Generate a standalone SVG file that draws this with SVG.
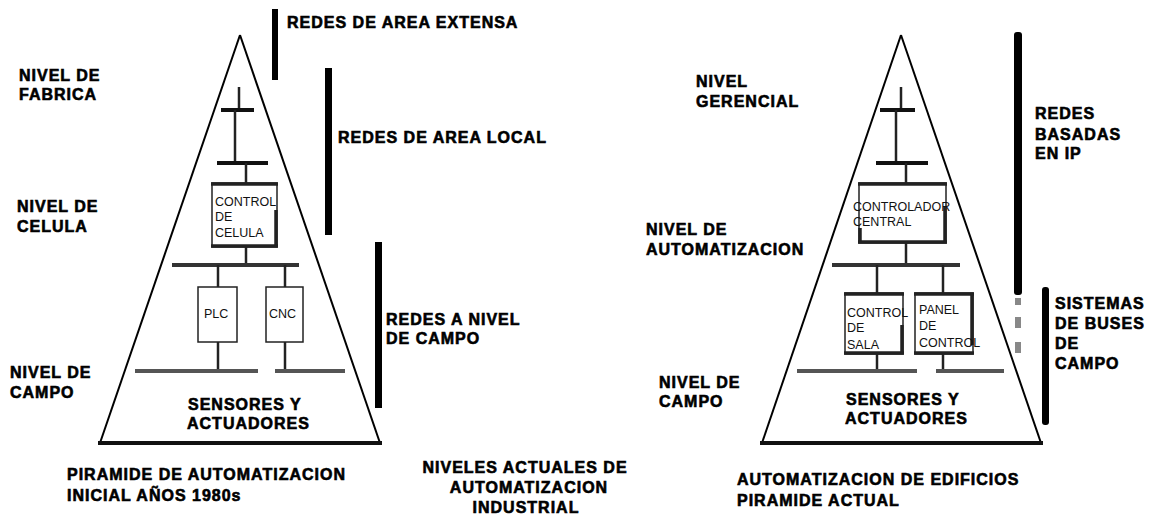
<svg xmlns="http://www.w3.org/2000/svg" width="1153" height="515" viewBox="0 0 1153 515">
<style>
.lbl{font-family:"Liberation Sans",Arial,sans-serif;font-weight:bold;font-size:16px;letter-spacing:1px;fill:#000;stroke:#000;stroke-width:0.6px}
.mid{text-anchor:middle}
.sm{font-family:"Liberation Sans",Arial,sans-serif;font-size:12.5px;fill:#111}
.side{stroke:#000;stroke-width:2;fill:none}
.base{stroke:#111;stroke-width:4;fill:none}
.wire{stroke:#222;stroke-width:2.5;fill:none}
.bus1{stroke:#111;stroke-width:4;fill:none}
.bus2{stroke:#333;stroke-width:4;fill:none}
.bus3{stroke:#555;stroke-width:4;fill:none}
.box{fill:#fff;stroke:#222;stroke-width:1.5}
.thick{stroke:#222;stroke-width:3.5;fill:none}
.bar{fill:#000}
.dash{fill:#888}
</style>
<rect width="1153" height="515" fill="#fff"/>

<g id="pyramid-left">
<line class="side" x1="240" y1="35" x2="100" y2="443"/>
<line class="side" x1="240" y1="35" x2="380" y2="443"/>
<line class="base" x1="98" y1="443" x2="382" y2="443"/>
</g>
<g id="pyramid-right">
<line class="side" x1="901" y1="35" x2="762" y2="443"/>
<line class="side" x1="901" y1="35" x2="1041" y2="443"/>
<line class="base" x1="760" y1="443" x2="1043" y2="443"/>
</g>

<g id="connectors">
<line class="wire" x1="239" y1="87" x2="239" y2="110"/>
<line class="bus1" x1="221" y1="110" x2="254" y2="110"/>
<line class="wire" x1="235" y1="110" x2="235" y2="163"/>
<line class="bus1" x1="217" y1="163" x2="268" y2="163"/>
<line class="wire" x1="246" y1="163" x2="246" y2="183"/>
<line class="wire" x1="246" y1="247" x2="246" y2="265"/>
<line class="bus2" x1="172" y1="265" x2="299" y2="265"/>
<line class="wire" x1="218" y1="265" x2="218" y2="287"/>
<line class="wire" x1="285" y1="265" x2="285" y2="287"/>
<line class="wire" x1="218" y1="342" x2="218" y2="371"/>
<line class="wire" x1="285" y1="342" x2="285" y2="371"/>
<line class="bus3" x1="135" y1="371" x2="258" y2="371"/>
<line class="bus3" x1="275" y1="371" x2="345" y2="371"/>

<line class="wire" x1="901" y1="87" x2="901" y2="110"/>
<line class="bus1" x1="880" y1="110" x2="915" y2="110"/>
<line class="wire" x1="896" y1="110" x2="896" y2="163"/>
<line class="bus1" x1="876" y1="163" x2="928" y2="163"/>
<line class="wire" x1="906" y1="163" x2="906" y2="183"/>
<line class="wire" x1="906" y1="243" x2="906" y2="265"/>
<line class="bus2" x1="832" y1="265" x2="960" y2="265"/>
<line class="wire" x1="877" y1="265" x2="877" y2="293"/>
<line class="wire" x1="943" y1="265" x2="943" y2="293"/>
<line class="wire" x1="877" y1="354" x2="877" y2="371"/>
<line class="wire" x1="943" y1="354" x2="943" y2="371"/>
<line class="bus3" x1="797" y1="371" x2="917" y2="371"/>
<line class="bus3" x1="936" y1="371" x2="1004" y2="371"/>
</g>

<g id="control-celula">
<rect class="box" x="212" y="183" width="65" height="64"/>
<line class="thick" x1="211" y1="184" x2="278" y2="184"/>
<line class="thick" x1="211" y1="246" x2="278" y2="246"/>
<line class="thick" x1="276" y1="210" x2="276" y2="246"/>
<text class="sm" x="215" y="206">CONTROL</text>
<text class="sm" x="215" y="221">DE</text>
<text class="sm" x="215" y="237">CELULA</text>
</g>
<g id="plc">
<rect class="box" x="198" y="287" width="39" height="55" stroke-width="3"/>
<text class="sm" x="204" y="318">PLC</text>
</g>
<g id="cnc">
<rect class="box" x="266" y="287" width="37" height="55" stroke-width="3"/>
<text class="sm" x="269" y="318">CNC</text>
</g>

<g id="controlador-central">
<rect class="box" x="859" y="183" width="87" height="60"/>
<line class="thick" x1="858" y1="184" x2="947" y2="184"/>
<line class="thick" x1="858" y1="242" x2="947" y2="242"/>
<line class="thick" x1="945" y1="207" x2="945" y2="242"/>
<line class="thick" x1="860" y1="228" x2="860" y2="242"/>
<text class="sm" x="853" y="211">CONTROLADOR</text>
<text class="sm" x="853" y="226">CENTRAL</text>
</g>
<g id="control-sala">
<rect class="box" x="845" y="293" width="58" height="61"/>
<line class="thick" x1="844" y1="294" x2="904" y2="294"/>
<line class="thick" x1="844" y1="353" x2="904" y2="353"/>
<line class="thick" x1="902" y1="325" x2="902" y2="353"/>
<text class="sm" x="847" y="317">CONTROL</text>
<text class="sm" x="847" y="332">DE</text>
<text class="sm" x="847" y="349">SALA</text>
</g>
<g id="panel-control">
<rect class="box" x="915" y="293" width="58" height="61"/>
<line class="thick" x1="914" y1="294" x2="974" y2="294"/>
<line class="thick" x1="914" y1="353" x2="974" y2="353"/>
<line class="thick" x1="972" y1="293" x2="972" y2="345"/>
<text class="sm" x="919" y="314">PANEL</text>
<text class="sm" x="919" y="330">DE</text>
<text class="sm" x="919" y="347">CONTROL</text>
</g>

<g id="bars">
<rect class="bar" x="272" y="9" width="6" height="71"/>
<rect class="bar" x="325" y="68" width="7" height="167"/>
<rect class="bar" x="375" y="242" width="7" height="166"/>
<rect class="bar" x="1014" y="32" width="8" height="263" rx="3"/>
<rect class="dash" x="1015" y="298" width="6" height="7"/>
<rect class="dash" x="1015" y="317" width="6" height="11"/>
<rect class="dash" x="1015" y="342" width="6" height="11"/>
<rect class="bar" x="1042" y="287" width="7" height="138" rx="3"/>
</g>

<g id="labels-left">
<text class="lbl" x="287" y="28">REDES DE AREA EXTENSA</text>
<text class="lbl" x="19" y="81">NIVEL DE</text>
<text class="lbl" x="19" y="100">FABRICA</text>
<text class="lbl" x="338" y="143">REDES DE AREA LOCAL</text>
<text class="lbl" x="17" y="212">NIVEL DE</text>
<text class="lbl" x="17" y="232">CELULA</text>
<text class="lbl" x="386" y="325">REDES A NIVEL</text>
<text class="lbl" x="386" y="344">DE CAMPO</text>
<text class="lbl" x="10" y="378">NIVEL DE</text>
<text class="lbl" x="10" y="398">CAMPO</text>
<text class="lbl" x="188" y="410">SENSORES Y</text>
<text class="lbl" x="187" y="429">ACTUADORES</text>
<text class="lbl" x="67" y="480">PIRAMIDE DE AUTOMATIZACION</text>
<text class="lbl" x="67" y="501">INICIAL AÑOS 1980s</text>
</g>
<g id="labels-middle">
<text class="lbl mid" x="525" y="473">NIVELES ACTUALES DE</text>
<text class="lbl mid" x="529" y="493">AUTOMATIZACION</text>
<text class="lbl mid" x="526" y="513">INDUSTRIAL</text>
</g>
<g id="labels-right">
<text class="lbl" x="696" y="87">NIVEL</text>
<text class="lbl" x="696" y="107">GERENCIAL</text>
<text class="lbl" x="1035" y="119">REDES</text>
<text class="lbl" x="1035" y="140">BASADAS</text>
<text class="lbl" x="1035" y="159">EN IP</text>
<text class="lbl" x="646" y="235">NIVEL DE</text>
<text class="lbl" x="646" y="255">AUTOMATIZACION</text>
<text class="lbl" x="659" y="388">NIVEL DE</text>
<text class="lbl" x="659" y="407">CAMPO</text>
<text class="lbl" x="846" y="405">SENSORES Y</text>
<text class="lbl" x="845" y="424">ACTUADORES</text>
<text class="lbl" x="1055" y="309">SISTEMAS</text>
<text class="lbl" x="1055" y="329">DE BUSES</text>
<text class="lbl" x="1055" y="349">DE</text>
<text class="lbl" x="1055" y="369">CAMPO</text>
<text class="lbl" x="737" y="485">AUTOMATIZACION DE EDIFICIOS</text>
<text class="lbl" x="737" y="506">PIRAMIDE ACTUAL</text>
</g>
</svg>
